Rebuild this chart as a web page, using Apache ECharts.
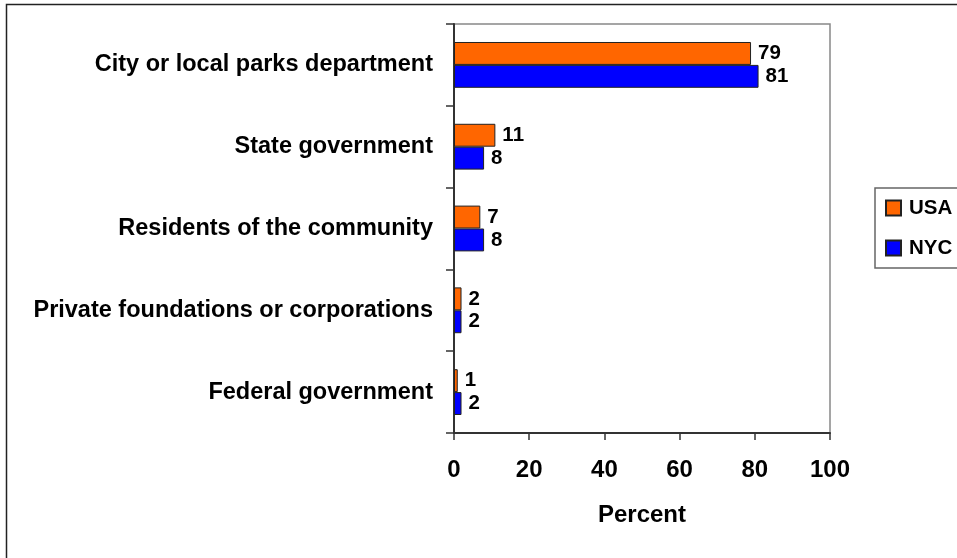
<!DOCTYPE html>
<html>
<head>
<meta charset="utf-8">
<script src="https://cdn.jsdelivr.net/npm/echarts@6/dist/echarts.min.js"></script>
<style>
html,body{margin:0;padding:0;background:#fff;}
#chart{width:957px;height:558px;}
</style>
</head>
<body>
<div id="chart"></div>
<script>
const categories = ['City or local parks department','State government','Residents of the community','Private foundations or corporations','Federal government'];
const usaValues = [79, 11, 7, 2, 1];
const nycValues = [81, 8, 8, 2, 2];
const seriesNames = ['USA', 'NYC'];
const xTicks = {min: 0, max: 100, interval: 20};
const axisTitle = 'Percent';

const chart = echarts.init(document.getElementById('chart'), null, {renderer: 'canvas'});
const font = 'Arial, "Liberation Sans", sans-serif';
const labelStyle = {show: true, position: 'right', distance: 7, color: '#000', fontWeight: 'bold', fontSize: 20.5, fontFamily: font};
chart.setOption({
  animation: false,
  backgroundColor: '#fff',
  graphic: [{
    type: 'rect', silent: true, z: -1,
    shape: {x: 6.5, y: 4.5, width: 1200, height: 1200},
    style: {fill: 'none', stroke: '#222', lineWidth: 1.5}
  }],
  grid: {left: 454, right: 127, top: 24, bottom: 125, show: true, borderColor: '#888', borderWidth: 1.5, backgroundColor: 'transparent'},
  legend: {
    orient: 'vertical', left: 875, top: 188,
    padding: [9, 40, 9, 10], itemGap: 18,
    itemWidth: 15, itemHeight: 15, icon: 'rect',
    borderColor: '#666', borderWidth: 1.5,
    textStyle: {fontWeight: 'bold', fontSize: 20.5, lineHeight: 22, fontFamily: font, color: '#000', padding: [0, 0, 0, 3]},
    data: seriesNames
  },
  xAxis: {
    type: 'value', min: xTicks.min, max: xTicks.max, interval: xTicks.interval,
    name: axisTitle, nameLocation: 'middle', nameGap: 70,
    nameTextStyle: {fontWeight: 'bold', fontSize: 24, fontFamily: font, color: '#000'},
    axisLine: {show: true, lineStyle: {color: '#333', width: 2}},
    axisTick: {show: true, length: 7, lineStyle: {color: '#333', width: 1.5}},
    axisLabel: {margin: 25, fontWeight: 'bold', fontSize: 24, fontFamily: font, color: '#000'},
    splitLine: {show: false}
  },
  yAxis: {
    type: 'category', data: categories, inverse: true,
    axisLine: {show: true, lineStyle: {color: '#333', width: 2}},
    axisTick: {show: true, length: 8, lineStyle: {color: '#333', width: 1.5}},
    axisLabel: {margin: 21, fontWeight: 'bold', fontSize: 23.5, fontFamily: font, color: '#000'}
  },
  series: [
    {name: seriesNames[0], type: 'bar', data: usaValues, barGap: '0%', barCategoryGap: '44%',
     itemStyle: {color: '#FF6600', borderColor: '#222', borderWidth: 1}, label: labelStyle},
    {name: seriesNames[1], type: 'bar', data: nycValues, barGap: '0%', barCategoryGap: '44%',
     itemStyle: {color: '#0000FF', borderColor: '#222', borderWidth: 1}, label: labelStyle}
  ]
});
</script>
</body>
</html>
